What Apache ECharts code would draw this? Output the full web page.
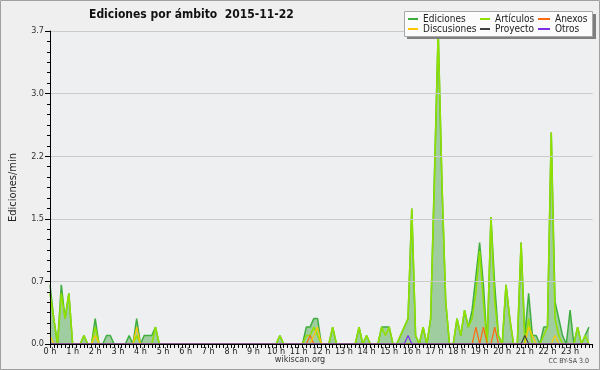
<!DOCTYPE html>
<html>
<head>
<meta charset="utf-8">
<script src="https://cdn.jsdelivr.net/npm/echarts@6/dist/echarts.min.js"></script>
<style>
html,body{margin:0;padding:0;background:#efefef;}
#c{width:600px;height:370px;}
</style>
</head>
<body>
<div id="c"></div>
<script>
// Ten-minute bins, 6 per hour (values in edits per minute)
const hourLabels = ['0 h','1 h','2 h','3 h','4 h','5 h','6 h','7 h','8 h','9 h','10 h','11 h','12 h','13 h','14 h','15 h','16 h','17 h','18 h','19 h','20 h','21 h','22 h','23 h'];

const ediciones = [
  0.7,0.3,0,0.7,0.3,0.6,   0,0,0,0.1,0,0,      0.3,0,0,0.1,0.1,0,   0,0,0,0.1,0,0.3,
  0,0.1,0.1,0.1,0.2,0,     0,0,0,0,0,0,        0,0,0,0,0,0,         0,0,0,0,0,0,
  0,0,0,0,0,0,             0,0,0,0,0,0,        0,0.1,0,0,0,0,       0,0,0.2,0.2,0.3,0.3,
  0,0,0,0.2,0,0,           0,0,0,0,0.2,0,      0.1,0,0,0,0.2,0.2,   0.2,0,0,0.1,0.2,0.3,
  1.6,0.1,0,0.2,0,0.3,     2.0,3.7,1.9,0.5,0,0, 0.3,0.1,0.4,0.2,0.4,0.8, 1.2,0.7,0,1.5,0.7,0.1,
  0,0.7,0.3,0,0,1.2,       0.1,0.6,0.1,0.1,0,0.2, 0.2,2.5,0.5,0.3,0.1,0, 0.4,0,0.2,0,0.1,0.2
];
const articulos = [
  0.6,0.3,0,0.6,0.3,0.6,   0,0,0,0.1,0,0,      0.2,0,0,0,0,0,       0,0,0,0,0,0.1,
  0,0,0,0,0.2,0,           0,0,0,0,0,0,        0,0,0,0,0,0,         0,0,0,0,0,0,
  0,0,0,0,0,0,             0,0,0,0,0,0,        0,0.1,0,0,0,0,       0,0,0.1,0.1,0.2,0.1,
  0,0,0,0.2,0,0,           0,0,0,0,0.2,0,      0.1,0,0,0,0.2,0.1,   0.2,0,0,0.1,0.2,0.3,
  1.6,0.1,0,0.2,0,0.3,     1.9,3.7,1.9,0.5,0,0, 0.3,0.1,0.4,0.2,0.3,0.6, 1.1,0.5,0,1.5,0.5,0.1,
  0,0.7,0.3,0,0,1.2,       0,0.3,0,0,0,0.1,    0.2,2.5,0.3,0.1,0,0, 0,0,0.2,0,0.1,0
];
const anexos = [
  0,0,0,0,0,0, 0,0,0,0,0,0, 0,0,0,0,0,0, 0,0,0,0,0,0,
  0,0,0,0,0,0, 0,0,0,0,0,0, 0,0,0,0,0,0, 0,0,0,0,0,0,
  0,0,0,0,0,0, 0,0,0,0,0,0, 0,0,0,0,0,0, 0,0,0,0.1,0,0,
  0,0,0,0,0,0, 0,0,0,0,0,0, 0,0,0,0,0,0, 0,0,0,0,0,0,
  0,0,0,0,0,0, 0,0,0,0,0,0, 0,0,0,0,0,0.2, 0,0.2,0,0,0.2,0,
  0,0,0,0,0,0, 0,0,0,0,0,0, 0,0,0,0,0,0, 0,0,0,0,0,0
];
const discusiones = [
  0.1,0,0,0,0,0, 0,0,0,0,0,0, 0.1,0,0,0,0,0, 0,0,0,0,0,0.2,
  0,0,0,0,0,0, 0,0,0,0,0,0, 0,0,0,0,0,0, 0,0,0,0,0,0,
  0,0,0,0,0,0, 0,0,0,0,0,0, 0,0,0,0,0,0, 0,0,0,0,0.1,0.2,
  0,0,0,0,0,0, 0,0,0,0,0,0, 0,0,0,0,0,0, 0,0,0,0,0,0,
  0,0,0,0,0,0, 0,0,0,0,0,0, 0,0,0,0,0,0, 0,0,0,0,0,0,
  0,0,0,0,0,0, 0,0.2,0.1,0,0,0, 0,0,0.1,0,0,0, 0,0,0,0,0,0
];
const proyecto = [
  0,0,0,0,0,0, 0,0,0,0,0,0, 0,0,0,0,0,0, 0,0,0,0,0,0,
  0,0,0,0,0,0, 0,0,0,0,0,0, 0,0,0,0,0,0, 0,0,0,0,0,0,
  0,0,0,0,0,0, 0,0,0,0,0,0, 0,0,0,0,0,0, 0,0,0,0,0,0,
  0,0,0,0,0,0, 0,0,0,0,0,0, 0,0,0,0,0,0, 0,0,0,0,0,0,
  0,0,0,0,0,0, 0,0,0,0,0,0, 0,0,0,0,0,0, 0,0,0,0,0,0,
  0,0,0,0,0,0, 0.1,0,0,0,0,0, 0,0,0,0,0,0, 0,0,0,0,0,0
];
const otros = [
  0,0,0,0,0,0, 0,0,0,0,0,0, 0,0,0,0,0,0, 0,0,0,0,0,0,
  0,0,0,0,0,0, 0,0,0,0,0,0, 0,0,0,0,0,0, 0,0,0,0,0,0,
  0,0,0,0,0,0, 0,0,0,0,0,0, 0,0,0,0,0,0, 0,0,0,0,0,0,
  0,0,0,0,0,0, 0,0,0,0,0,0, 0,0,0,0,0,0, 0,0,0,0,0,0.1,
  0,0,0,0,0,0, 0,0,0,0,0,0, 0,0,0,0,0,0, 0,0,0,0,0,0,
  0,0,0,0,0,0, 0,0,0,0,0,0, 0,0,0,0,0,0, 0,0,0,0,0,0
];
const yTicks = [0, 0.74, 1.48, 2.22, 2.96, 3.7];

const FONT = '"DejaVu Sans Condensed", "DejaVu Sans", sans-serif';
const toPts = arr => arr.map((v, i) => [i / 6, v]);

const chart = echarts.init(document.getElementById('c'), null, {renderer: 'canvas'});

function lineSeries(name, arr, color, width, extra) {
  return Object.assign({
    name: name, type: 'line', data: toPts(arr), color: color,
    showSymbol: false, symbol: 'none', animation: false,
    lineStyle: {color: color, width: width}
  }, extra || {});
}

const legendCommon = {
  orient: 'vertical', top: 14, itemWidth: 10, itemHeight: 2, itemGap: 0,
  icon: 'rect', padding: 0, selectedMode: false, z: 20,
  textStyle: {fontFamily: FONT, fontSize: 10, lineHeight: 10, color: '#222'}
};

chart.setOption({
  backgroundColor: '#efefef',
  animation: false,
  title: {
    text: 'Ediciones por ámbito  2015-11-22',
    left: 84, top: 4,
    textStyle: {fontFamily: FONT, fontSize: 12, fontWeight: 'bold', color: '#111'}
  },
  legend: [
    Object.assign({}, legendCommon, {left: 408, data: ['Ediciones', 'Discusiones']}),
    Object.assign({}, legendCommon, {left: 480, data: ['Artículos', 'Proyecto']}),
    Object.assign({}, legendCommon, {left: 538, itemWidth: 12, data: ['Anexos', 'Otros']})
  ],
  grid: {left: 46, right: 7.3, top: 31, bottom: 26, show: true,
         backgroundColor: '#eeeff1', borderWidth: 0},
  xAxis: {
    type: 'value', min: 0, max: 24, interval: 1, z: 10,
    axisLine: {lineStyle: {color: '#000', width: 1}},
    axisTick: {show: true, length: 4, lineStyle: {color: '#000'}},
    minorTick: {show: true, splitNumber: 6, length: 4, lineStyle: {color: '#000'}},
    splitLine: {show: false},
    axisLabel: {
      margin: 3, fontFamily: FONT, fontSize: 9, color: '#222',
      formatter: v => (v < 24 ? hourLabels[v] : '')
    }
  },
  yAxis: {
    type: 'value', min: yTicks[0], max: yTicks[yTicks.length - 1], interval: yTicks[1], z: 10,
    name: 'Ediciones/min', nameLocation: 'middle', nameGap: 31, nameRotate: 90,
    nameTextStyle: {fontFamily: FONT, fontSize: 11, color: '#222'},
    axisLine: {show: true, lineStyle: {color: '#000', width: 1}},
    axisTick: {show: true, length: 5, lineStyle: {color: '#000'}},
    minorTick: {show: true, splitNumber: 6, length: 3, lineStyle: {color: '#000'}},
    splitLine: {show: true, lineStyle: {color: '#cbcbcb', width: 1}},
    axisLabel: {margin: 6, fontFamily: FONT, fontSize: 9, color: '#333',
                formatter: v => v.toFixed(1)}
  },
  graphic: [
    {type: 'rect', z: 15, shape: {x: 407, y: 14, width: 189, height: 25}, style: {fill: '#7f7f7f'}},
    {type: 'rect', z: 16, shape: {x: 404.5, y: 11.5, width: 188, height: 25}, style: {fill: '#fbfbfb', stroke: '#a8a8a8', lineWidth: 1}},
    {type: 'text', z: 16, left: 'center', top: 355, style: {text: 'wikiscan.org', font: '9px ' + FONT, fill: '#333'}},
    {type: 'text', z: 16, right: 11, top: 358, style: {text: 'CC BY-SA 3.0', font: '7px ' + FONT, fill: '#444'}},
    {type: 'rect', z: 30, shape: {x: 0.5, y: 0.5, width: 599, height: 369}, style: {fill: null, stroke: '#a0a0a0', lineWidth: 1}}
  ],
  series: [
    lineSeries('Ediciones', ediciones, '#3fae3f', 1.5, {areaStyle: {color: '#9fcd9f', opacity: 1}, z: 2}),
    lineSeries('Artículos', articulos, '#90e000', 1.6, {z: 3}),
    lineSeries('Anexos', anexos, '#ff6a10', 1.2, {z: 4}),
    lineSeries('Discusiones', discusiones, '#ffc800', 1.2, {z: 4}),
    lineSeries('Proyecto', proyecto, '#404040', 1.2, {z: 4}),
    lineSeries('Otros', otros, '#7a30e8', 1.2, {z: 4})
  ]
});
</script>
</body>
</html>
